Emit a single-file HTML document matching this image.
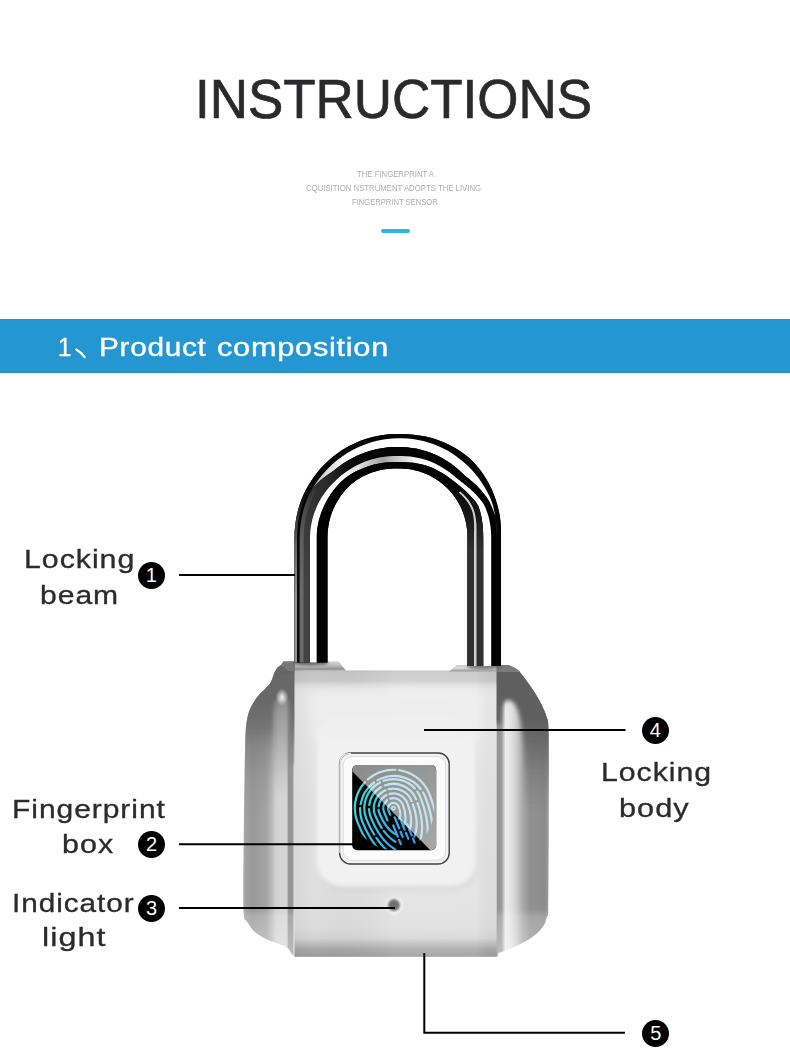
<!DOCTYPE html>
<html><head><meta charset="utf-8"><title>Instructions</title>
<style>
html,body{margin:0;padding:0;background:#fff;}
body{width:790px;height:1053px;position:relative;overflow:hidden;font-family:"Liberation Sans",sans-serif;}
.t{position:absolute;white-space:nowrap;transform-origin:0 0;line-height:normal;font-family:"Liberation Sans",sans-serif;}
.num{position:absolute;width:27px;height:27px;border-radius:50%;background:#000;color:#fff;font-size:20px;line-height:27.5px;text-align:center;font-family:"Liberation Sans",sans-serif;}
svg{position:absolute;left:0;top:0;}
</style></head><body>
<div class="t" style="-webkit-text-stroke:0.7px #2a2a2c;left:195.09px;top:67.22px;font-size:55px;color:#2a2a2c;transform:scaleX(0.9625);">INSTRUCTIONS</div>
<div class="t" style="left:357.0px;top:169.08px;font-size:8.6px;color:#adadad;transform:scaleX(0.9024);">THE FINGERPRINT A</div>
<div class="t" style="left:306.4px;top:183.48px;font-size:8.6px;color:#adadad;transform:scaleX(0.9047);">CQUISITION NSTRUMENT ADOPTS THE LIVING</div>
<div class="t" style="left:351.81px;top:197.28px;font-size:8.6px;color:#adadad;transform:scaleX(0.8853);">FINGERPRINT SENSOR</div>
<div style="position:absolute;left:381px;top:229px;width:29px;height:4px;border-radius:2px;background:#2fb4e6;"></div>
<div style="position:absolute;left:0;top:319px;width:790px;height:54px;background:#2497d3;"></div>
<svg width="790" height="1053" viewBox="0 0 790 1053"><path d="M76.2 349.6 Q81 352.5 84.6 357" stroke="#fff" stroke-width="2.3" fill="none" stroke-linecap="round"/></svg>
<div class="t" style="-webkit-text-stroke:0.35px #fff;left:58.45px;top:331.64px;font-size:26px;color:#fff;transform:scaleX(0.9273);">1</div>
<div class="t" style="-webkit-text-stroke:0.35px #fff;left:98.51px;top:331.64px;font-size:26px;letter-spacing:0.6px;color:#fff;transform:scaleX(1.1451);">Product</div>
<div class="t" style="-webkit-text-stroke:0.35px #fff;left:216.82px;top:331.64px;font-size:26px;letter-spacing:0.6px;color:#fff;transform:scaleX(1.1831);">composition</div>
<svg width="790" height="1053" viewBox="0 0 790 1053">
<defs>
<filter id="sblur" x="-5%" y="-5%" width="110%" height="110%"><feGaussianBlur stdDeviation="0.8"/></filter>
<linearGradient id="gB2" gradientUnits="userSpaceOnUse" x1="294" y1="0" x2="501" y2="0">
<stop offset="0" stop-color="#3c3c3c"/><stop offset="0.16" stop-color="#2a2a2a"/><stop offset="0.3" stop-color="#050505"/><stop offset="1" stop-color="#000"/></linearGradient>
<linearGradient id="gB3" gradientUnits="userSpaceOnUse" x1="294" y1="0" x2="501" y2="0">
<stop offset="0" stop-color="#fff"/><stop offset="0.22" stop-color="#fff"/><stop offset="0.32" stop-color="#dadada"/><stop offset="0.43" stop-color="#a4a4a4"/><stop offset="0.52" stop-color="#d4d4d4"/><stop offset="0.6" stop-color="#fff"/><stop offset="1" stop-color="#fff"/></linearGradient>
<linearGradient id="gB1" gradientUnits="userSpaceOnUse" x1="308" y1="494" x2="342" y2="452"><stop offset="0" stop-color="#8a8a8a"/><stop offset="0.45" stop-color="#d6d6d6"/><stop offset="1" stop-color="#fff"/></linearGradient>
<linearGradient id="gB4" gradientUnits="userSpaceOnUse" x1="294" y1="0" x2="501" y2="0">
<stop offset="0" stop-color="#000"/><stop offset="1" stop-color="#040404"/></linearGradient>
<linearGradient id="gB4r" gradientUnits="userSpaceOnUse" x1="0" y1="485" x2="0" y2="550"><stop offset="0" stop-color="#2e2e2e" stop-opacity="0"/><stop offset="1" stop-color="#303030" stop-opacity="1"/></linearGradient>
<linearGradient id="gS1" gradientUnits="userSpaceOnUse" x1="0" y1="490" x2="0" y2="600">
<stop offset="0" stop-color="#8c8c8c" stop-opacity="0"/><stop offset="0.5" stop-color="#8c8c8c" stop-opacity="0.7"/><stop offset="1" stop-color="#949494" stop-opacity="1"/></linearGradient>
<linearGradient id="gS2" gradientUnits="userSpaceOnUse" x1="0" y1="485" x2="0" y2="590">
<stop offset="0" stop-color="#686868" stop-opacity="0"/><stop offset="0.5" stop-color="#686868" stop-opacity="0.8"/><stop offset="1" stop-color="#6a6a6a" stop-opacity="1"/></linearGradient>
<linearGradient id="gS3" gradientUnits="userSpaceOnUse" x1="0" y1="500" x2="0" y2="580">
<stop offset="0" stop-color="#404040" stop-opacity="0"/><stop offset="1" stop-color="#424242" stop-opacity="1"/></linearGradient>

<filter id="b1" x="-10%" y="-10%" width="120%" height="120%"><feGaussianBlur stdDeviation="1"/></filter>
<filter id="b2" x="-10%" y="-10%" width="120%" height="120%"><feGaussianBlur stdDeviation="2.2"/></filter>
<filter id="b4" x="-20%" y="-20%" width="140%" height="140%"><feGaussianBlur stdDeviation="4"/></filter>
<clipPath id="bodyclip"><path d="M283.5 661.6C283.1 662.1 282.4 663.5 281.3 664.6C280.2 665.8 277.9 667.0 276.7 668.5C275.5 670.0 274.6 672.0 273.9 673.7C273.1 675.4 272.9 677.2 272.2 678.8C271.5 680.4 271.0 681.8 269.9 683.4C268.8 685.0 267.1 686.7 265.4 688.5C263.7 690.3 261.4 692.3 259.7 694.2C258.0 696.1 256.4 698.0 255.1 699.9C253.8 701.8 252.8 703.5 251.7 705.6C250.6 707.7 249.6 709.9 248.8 712.4C248.0 714.9 247.4 717.3 246.9 720.4C246.4 723.5 246.0 726.5 245.7 730.7C245.4 734.9 245.4 737.3 245.2 745.5C245.0 753.7 244.8 764.2 244.5 780.0C244.2 795.8 243.9 818.4 243.7 840.0C243.5 861.6 242.8 896.1 243.4 909.8C244.0 923.5 245.4 918.5 247.5 922.3C249.6 926.1 252.4 929.8 255.9 932.8C259.4 935.8 264.4 938.1 268.4 940.0C272.4 941.9 276.6 942.9 279.9 944.3C283.2 945.7 286.0 947.0 288.0 948.6C290.0 950.2 290.7 952.6 292.0 954.0C293.3 955.4 295.0 956.3 295.6 956.8L498.2 956.6C498.2 956.0 497.6 954.0 498.4 953.1C499.2 952.2 500.2 952.4 502.8 951.4C505.4 950.4 510.4 948.6 514.2 946.9C518.0 945.2 521.8 943.5 525.6 941.2C529.4 938.9 534.0 935.9 537.0 933.2C540.0 930.5 542.1 928.1 543.8 925.2C545.5 922.4 546.5 918.8 547.2 916.1C547.9 913.5 548.0 922.0 548.2 909.3C548.5 896.6 548.6 861.5 548.7 840.0C548.8 818.5 548.8 798.6 548.8 780.0C548.8 761.4 548.9 738.9 548.5 728.4C548.1 717.9 547.9 721.0 546.7 717.0C545.5 713.0 543.7 708.8 541.5 704.4C539.3 700.0 536.2 695.0 533.6 690.8C531.0 686.6 528.3 682.9 525.6 679.4C522.9 675.9 520.5 672.1 517.6 669.7C514.8 667.3 510.0 665.8 508.5 665.0L456.6 665L449 671.2L346 670.8L338.6 661.6L283.5 661.6Z"/></clipPath>
<linearGradient id="gSide" gradientUnits="userSpaceOnUse" x1="243" y1="0" x2="549" y2="0">
<stop offset="0" stop-color="#b4b4b4"/>
<stop offset="0.008" stop-color="#a2a2a2"/>
<stop offset="0.03" stop-color="#999"/>
<stop offset="0.075" stop-color="#a3a3a3"/>
<stop offset="0.095" stop-color="#bcbcbc"/>
<stop offset="0.108" stop-color="#d2d2d2"/>
<stop offset="0.140" stop-color="#d6d6d6"/>
<stop offset="0.144" stop-color="#cecece"/>
<stop offset="0.149" stop-color="#929292"/>
<stop offset="0.162" stop-color="#969696"/>
<stop offset="0.167" stop-color="#d8d8d8"/>
<stop offset="0.17" stop-color="#e4e4e4"/>
<stop offset="0.826" stop-color="#e4e4e4"/>
<stop offset="0.83" stop-color="#929292"/>
<stop offset="0.845" stop-color="#9a9a9a"/>
<stop offset="0.858" stop-color="#ececec"/>
<stop offset="0.875" stop-color="#e3e3e3"/>
<stop offset="0.892" stop-color="#d0d0d0"/>
<stop offset="0.915" stop-color="#a8a8a8"/>
<stop offset="0.937" stop-color="#919191"/>
<stop offset="0.985" stop-color="#8c8c8c"/>
<stop offset="1" stop-color="#9c9c9c"/>
</linearGradient>
<linearGradient id="gTopDarkL" gradientUnits="userSpaceOnUse" x1="0" y1="662" x2="0" y2="800">
<stop offset="0" stop-color="#000" stop-opacity="0.36"/><stop offset="0.3" stop-color="#000" stop-opacity="0.3"/><stop offset="0.6" stop-color="#000" stop-opacity="0.14"/><stop offset="1" stop-color="#000" stop-opacity="0"/></linearGradient>
<linearGradient id="gMaskL" gradientUnits="userSpaceOnUse" x1="243" y1="0" x2="297" y2="0">
<stop offset="0" stop-color="#fff"/><stop offset="0.5" stop-color="#fff"/><stop offset="0.72" stop-color="#555"/><stop offset="0.83" stop-color="#444"/><stop offset="0.86" stop-color="#999"/><stop offset="1" stop-color="#999"/></linearGradient>
<mask id="mL" maskUnits="userSpaceOnUse" x="240" y="655" width="60" height="160"><rect x="240" y="655" width="60" height="160" fill="url(#gMaskL)"/></mask>
<linearGradient id="gTopDarkR" gradientUnits="userSpaceOnUse" x1="0" y1="662" x2="0" y2="716">
<stop offset="0" stop-color="#000" stop-opacity="0.52"/><stop offset="0.6" stop-color="#000" stop-opacity="0.5"/><stop offset="1" stop-color="#000" stop-opacity="0"/></linearGradient>
<linearGradient id="gSideDarkR" gradientUnits="userSpaceOnUse" x1="0" y1="690" x2="0" y2="800">
<stop offset="0" stop-color="#000" stop-opacity="0.45"/><stop offset="0.4" stop-color="#000" stop-opacity="0.3"/><stop offset="1" stop-color="#000" stop-opacity="0"/></linearGradient>
<linearGradient id="gMaskR" gradientUnits="userSpaceOnUse" x1="496" y1="0" x2="549" y2="0">
<stop offset="0" stop-color="#000"/><stop offset="0.36" stop-color="#000"/><stop offset="0.62" stop-color="#ddd"/><stop offset="1" stop-color="#fff"/></linearGradient>
<mask id="mR" maskUnits="userSpaceOnUse" x="490" y="655" width="65" height="160"><rect x="490" y="655" width="65" height="160" fill="url(#gMaskR)"/></mask>
<linearGradient id="gDarkL" gradientUnits="userSpaceOnUse" x1="0" y1="660" x2="0" y2="815">
<stop offset="0" stop-color="#666" stop-opacity="1"/><stop offset="0.27" stop-color="#686868" stop-opacity="1"/><stop offset="0.42" stop-color="#6c6c6c" stop-opacity="0.88"/><stop offset="0.58" stop-color="#767676" stop-opacity="0.5"/><stop offset="0.78" stop-color="#787878" stop-opacity="0.15"/><stop offset="1" stop-color="#787878" stop-opacity="0"/></linearGradient>
<linearGradient id="gDarkR" gradientUnits="userSpaceOnUse" x1="0" y1="660" x2="0" y2="810">
<stop offset="0" stop-color="#606060" stop-opacity="1"/><stop offset="0.36" stop-color="#5e5e5e" stop-opacity="1"/><stop offset="0.53" stop-color="#5c5c5c" stop-opacity="0.75"/><stop offset="0.76" stop-color="#5c5c5c" stop-opacity="0.3"/><stop offset="1" stop-color="#5c5c5c" stop-opacity="0"/></linearGradient>
<linearGradient id="gBandDim" gradientUnits="userSpaceOnUse" x1="0" y1="700" x2="0" y2="795"><stop offset="0" stop-color="#7c7c7c" stop-opacity="0.75"/><stop offset="0.35" stop-color="#808080" stop-opacity="0.5"/><stop offset="1" stop-color="#888" stop-opacity="0"/></linearGradient>
<radialGradient id="gInd" cx="0.45" cy="0.45" r="0.6"><stop offset="0" stop-color="#6a6a6a"/><stop offset="0.7" stop-color="#767676"/><stop offset="1" stop-color="#8a8a8a"/></radialGradient>
<radialGradient id="gSpot" cx="0.5" cy="0.5" r="0.5"><stop offset="0" stop-color="#fff" stop-opacity="0.9"/><stop offset="0.45" stop-color="#fff" stop-opacity="0.5"/><stop offset="1" stop-color="#fff" stop-opacity="0"/></radialGradient>
<linearGradient id="gBotBand" gradientUnits="userSpaceOnUse" x1="0" y1="905" x2="0" y2="957">
<stop offset="0" stop-color="#fff" stop-opacity="0"/><stop offset="0.1" stop-color="#fff" stop-opacity="0.03"/><stop offset="0.22" stop-color="#fff" stop-opacity="0.2"/><stop offset="1" stop-color="#fff" stop-opacity="0.36"/></linearGradient>
<linearGradient id="gFace" gradientUnits="userSpaceOnUse" x1="0" y1="670" x2="0" y2="957">
<stop offset="0" stop-color="#c2c2c2"/>
<stop offset="0.012" stop-color="#c9c9c9"/>
<stop offset="0.038" stop-color="#cdcdcd"/>
<stop offset="0.052" stop-color="#dedede"/>
<stop offset="0.068" stop-color="#e8e8e8"/>
<stop offset="0.1" stop-color="#ececec"/>
<stop offset="0.2" stop-color="#e9e9e9"/>
<stop offset="0.5" stop-color="#e4e4e4"/>
<stop offset="0.8" stop-color="#e2e2e2"/>
<stop offset="0.9" stop-color="#dfdfdf"/>
<stop offset="0.935" stop-color="#d6d6d6"/>
<stop offset="0.955" stop-color="#bebebe"/>
<stop offset="0.975" stop-color="#a9a9a9"/>
<stop offset="1" stop-color="#9e9e9e"/>
</linearGradient>
<linearGradient id="gFaceH" gradientUnits="userSpaceOnUse" x1="294" y1="0" x2="497" y2="0">
<stop offset="0" stop-color="#000" stop-opacity="0.05"/><stop offset="0.1" stop-color="#000" stop-opacity="0.015"/><stop offset="0.5" stop-color="#fff" stop-opacity="0.1"/><stop offset="0.9" stop-color="#fff" stop-opacity="0.08"/><stop offset="1" stop-color="#000" stop-opacity="0.02"/></linearGradient>
<linearGradient id="gColL" gradientUnits="userSpaceOnUse" x1="0" y1="661" x2="0" y2="671">
<stop offset="0" stop-color="#d8d8d8"/><stop offset="0.55" stop-color="#b4b4b4"/><stop offset="0.8" stop-color="#8e8e8e"/><stop offset="1" stop-color="#b8b8b8"/></linearGradient>
<linearGradient id="gColR" gradientUnits="userSpaceOnUse" x1="0" y1="664" x2="0" y2="672">
<stop offset="0" stop-color="#c6c6c6"/><stop offset="0.5" stop-color="#dcdcdc"/><stop offset="0.85" stop-color="#a0a0a0"/><stop offset="1" stop-color="#c0c0c0"/></linearGradient>
<linearGradient id="gTri" gradientUnits="userSpaceOnUse" x1="360" y1="765" x2="436" y2="850">
<stop offset="0" stop-color="#8c8c8c"/><stop offset="0.5" stop-color="#999"/><stop offset="1" stop-color="#a8a8a8"/></linearGradient>
<linearGradient id="gFp" gradientUnits="userSpaceOnUse" x1="352" y1="775" x2="415" y2="850">
<stop offset="0" stop-color="#38e4d4"/><stop offset="0.45" stop-color="#36c0e4"/><stop offset="1" stop-color="#3a86ea"/></linearGradient>
<clipPath id="cSq"><rect x="352.2" y="765" width="84" height="85.3" rx="5"/></clipPath>
<clipPath id="cTri"><path d="M352.2 765H436.2V850.3H430.4L352.2 771.3Z"/></clipPath>
<clipPath id="cBlk"><path d="M352.2 771.3L430.4 850.3H352.2Z"/></clipPath>
<clipPath id="cFp"><circle cx="393.6" cy="809.2" r="40.8"/></clipPath>
<g id="fp" fill="none" stroke-width="2.25" stroke-linecap="round" clip-path="url(#cFp)"><g transform="rotate(-22 393.4 808.2)">
<circle cx="393.4" cy="808.2" r="1.6" stroke-width="1.6"/>
<path d="M388.0 813.0V808.2A5.3 5.3 0 0 1 398.8 808.2A5.3 11.9 0 0 1 394.5 819.9"/>
<path d="M383.3 817.3V808.2A10.1 10.1 0 0 1 403.5 808.2A10.1 20.7 0 0 1 395.4 828.5" stroke-dasharray="22 3.5 40"/>
<path d="M385.2 832.8A14.8 29.5 0 0 1 378.5 808.2A14.8 14.8 0 0 1 408.2 808.2A14.8 29.5 0 0 1 400.1 834.5" stroke-dasharray="30 3.5 14 3.5 60"/>
<path d="M382.6 840.1A19.6 38.3 0 0 1 373.8 808.2A19.6 19.6 0 0 1 413.0 808.2A19.6 38.3 0 0 1 402.2 842.4" stroke-dasharray="16 3.5 44 3.5 28 3.5 70"/>
<path d="M380.0 847.5A24.4 47.0 0 0 1 369.0 808.2A24.4 24.4 0 0 1 417.8 808.2A24.4 47.0 0 0 1 404.4 850.2" stroke-dasharray="50 4 22 4 38 4 90"/>
<path d="M377.4 854.8A29.1 55.8 0 0 1 364.3 808.2A29.1 29.1 0 0 1 422.5 808.2A29.1 55.8 0 0 1 406.5 858.1" stroke-dasharray="28 4 60 4 34 4 52 4 120"/>
<path d="M374.8 862.2A33.9 64.6 0 0 1 359.5 808.2A33.9 33.9 0 0 1 427.2 808.2A33.9 64.6 0 0 1 408.6 865.9" stroke-dasharray="70 4 26 4 48 4 80 4 130"/>
<path d="M372.2 869.5A38.6 73.4 0 0 1 354.8 808.2A38.6 38.6 0 0 1 432.0 808.2A38.6 73.4 0 0 1 410.8 873.8" stroke-dasharray="40 4 64 4 30 4 90 4 56 4 150"/>
<path d="M369.6 876.8A43.4 82.2 0 0 1 350.0 808.2A43.4 43.4 0 0 1 436.8 808.2A43.4 82.2 0 0 1 412.9 881.6" stroke-dasharray="90 4 36 4 70 4 44 4 170"/>
<path d="M366.9 884.2A48.1 91.0 0 0 1 345.3 808.2A48.1 48.1 0 0 1 441.5 808.2A48.1 91.0 0 0 1 415.0 889.4" stroke-dasharray="56 4 80 4 40 4 110 4 200"/>
<path d="M391.2 817.2V838.2" stroke-dasharray="12 3.5 30"/>
<path d="M395.8 820.2V842.2" stroke-dasharray="12 3.5 30"/>
<path d="M386.8 824.2V844.2" stroke-dasharray="12 3.5 30"/>
<path d="M400.2 828.2V848.2" stroke-dasharray="12 3.5 30"/>
</g></g>
</defs>
<path d="M283.5 661.6C283.1 662.1 282.4 663.5 281.3 664.6C280.2 665.8 277.9 667.0 276.7 668.5C275.5 670.0 274.6 672.0 273.9 673.7C273.1 675.4 272.9 677.2 272.2 678.8C271.5 680.4 271.0 681.8 269.9 683.4C268.8 685.0 267.1 686.7 265.4 688.5C263.7 690.3 261.4 692.3 259.7 694.2C258.0 696.1 256.4 698.0 255.1 699.9C253.8 701.8 252.8 703.5 251.7 705.6C250.6 707.7 249.6 709.9 248.8 712.4C248.0 714.9 247.4 717.3 246.9 720.4C246.4 723.5 246.0 726.5 245.7 730.7C245.4 734.9 245.4 737.3 245.2 745.5C245.0 753.7 244.8 764.2 244.5 780.0C244.2 795.8 243.9 818.4 243.7 840.0C243.5 861.6 242.8 896.1 243.4 909.8C244.0 923.5 245.4 918.5 247.5 922.3C249.6 926.1 252.4 929.8 255.9 932.8C259.4 935.8 264.4 938.1 268.4 940.0C272.4 941.9 276.6 942.9 279.9 944.3C283.2 945.7 286.0 947.0 288.0 948.6C290.0 950.2 290.7 952.6 292.0 954.0C293.3 955.4 295.0 956.3 295.6 956.8L498.2 956.6C498.2 956.0 497.6 954.0 498.4 953.1C499.2 952.2 500.2 952.4 502.8 951.4C505.4 950.4 510.4 948.6 514.2 946.9C518.0 945.2 521.8 943.5 525.6 941.2C529.4 938.9 534.0 935.9 537.0 933.2C540.0 930.5 542.1 928.1 543.8 925.2C545.5 922.4 546.5 918.8 547.2 916.1C547.9 913.5 548.0 922.0 548.2 909.3C548.5 896.6 548.6 861.5 548.7 840.0C548.8 818.5 548.8 798.6 548.8 780.0C548.8 761.4 548.9 738.9 548.5 728.4C548.1 717.9 547.9 721.0 546.7 717.0C545.5 713.0 543.7 708.8 541.5 704.4C539.3 700.0 536.2 695.0 533.6 690.8C531.0 686.6 528.3 682.9 525.6 679.4C522.9 675.9 520.5 672.1 517.6 669.7C514.8 667.3 510.0 665.8 508.5 665.0L456.6 665L449 671.2L346 670.8L338.6 661.6L283.5 661.6Z" fill="url(#gSide)"/>
<g clip-path="url(#bodyclip)">
<path d="M236 650H302V765H289V712C289 702 286.5 699 282 699C277 699 275.5 704 275 716C274 750 273 790 272 822H236Z" fill="url(#gDarkL)" filter="url(#b2)"/>
<rect x="274" y="700" width="15" height="95" fill="url(#gBandDim)" filter="url(#b1)"/>
<ellipse cx="282" cy="697" rx="6.5" ry="8.5" fill="url(#gSpot)"/>
<path d="M488 650H556V815H524C524 770 525.5 732 518 710C513.5 698 504.5 697 501.8 707L500.8 724H488Z" fill="url(#gDarkR)" filter="url(#b2)"/>
<rect x="240" y="905" width="56" height="55" fill="url(#gBotBand)"/>
<rect x="497" y="905" width="56" height="55" fill="url(#gBotBand)"/>
</g>
<rect x="294.5" y="670.5" width="202.0" height="286.29999999999995" fill="url(#gFace)"/>
<rect x="294.5" y="670.5" width="202.0" height="286.29999999999995" fill="url(#gFaceH)"/>
<rect x="317" y="724" width="161" height="166" rx="26" fill="#cdcdcd" opacity="0.5" filter="url(#b2)"/>
<rect x="316" y="716" width="160.5" height="170.5" rx="25" fill="#f1f1f1" filter="url(#b2)"/>
<rect x="312" y="690" width="168" height="50" rx="10" fill="#efefef" opacity="0.8" filter="url(#b4)"/>
<path d="M283.5 661.6H338.6L346 670.8H294.5L281 665Z" fill="url(#gColL)"/>
<path d="M281.3 664.6L283.5 661.6H295V671H288Z" fill="#787878"/>
<path d="M456.6 665H508.5L517.6 669.7L519 672H449Z" fill="url(#gColR)"/>
<path d="M496.5 665H508.5L517.6 669.7L519 672H496.5Z" fill="#7a7a7a"/>
<ellipse cx="310.7" cy="663" rx="17.5" ry="2.6" fill="#505050" opacity="0.75" filter="url(#b1)"/>
<ellipse cx="484.2" cy="666.8" rx="17.5" ry="2.4" fill="#5a5a5a" opacity="0.7" filter="url(#b1)"/>
<rect x="339.6" y="753" width="109.6" height="111" rx="11" fill="#f2f2f2" stroke="#424242" stroke-width="1.4"/>
<path d="M340 853V764Q340 753.4 351 753.4" fill="none" stroke="#e8e8e8" stroke-width="1.4"/>
<rect x="343.2" y="756.6" width="102.4" height="103.8" rx="8.5" fill="#fbfbfb" stroke="#d6d6d6" stroke-width="0.8"/>
<rect x="352.2" y="765" width="84" height="85.3" rx="5" fill="#000"/>
<g clip-path="url(#cSq)">
<path d="M352.2 765H436.2V850.3H430.4L352.2 771.3Z" fill="url(#gTri)"/>
<g clip-path="url(#cBlk)"><use href="#fp" stroke="url(#gFp)"/></g>
<g clip-path="url(#cTri)"><use href="#fp" stroke="#c2e4ee"/></g>
</g>
<circle cx="394" cy="905.4" r="8.6" fill="#f6f6f6" filter="url(#b1)"/>
<circle cx="394" cy="905.2" r="6.1" fill="url(#gInd)" filter="url(#b1)"/>
<g>
<path d="M294.5 662.5L294.5 627.0L294.5 597.0L294.5 567.0L294.5 547.0L294.5 537.0L294.6 531.6L295.1 526.2L295.8 520.9L296.8 515.6L298.0 510.3L299.5 505.2L301.3 500.1L303.4 495.1L305.7 490.2L308.3 485.5L311.1 480.9L314.2 476.5L317.5 472.2L321.0 468.1L324.7 464.2L328.6 460.5L332.7 457.0L337.0 453.7L341.4 450.6L346.0 447.8L350.7 445.2L355.6 442.9L360.6 440.8L365.7 439.0L370.8 437.5L376.1 436.3L381.4 435.3L386.7 434.6L392.1 434.1L397.5 434.0L402.9 434.1L408.3 434.3L413.7 434.7L419.1 435.4L424.5 436.3L429.8 437.5L435.1 439.1L440.3 440.9L445.4 443.1L450.4 445.4L455.2 448.1L459.9 451.1L464.5 454.3L468.8 457.8L472.9 461.6L476.7 465.7L480.2 470.0L483.4 474.6L486.4 479.3L489.1 484.1L491.6 489.1L493.7 494.2L495.6 499.3L497.2 504.6L498.6 509.9L499.7 515.3L500.4 520.7L500.8 526.1L501.0 531.6L501.0 537.0L501.0 547.0L501.0 567.0L501.0 597.0L501.0 627.0L501.0 666.0L467.5 666.0L467.5 627.0L467.5 597.0L467.5 567.0L467.5 547.0L467.5 537.0L467.4 533.3L467.1 529.7L466.6 526.0L466.0 522.4L465.1 518.9L464.1 515.4L462.8 511.9L461.4 508.5L459.8 505.2L458.0 502.1L456.1 498.9L454.0 496.0L451.7 493.1L449.3 490.3L446.8 487.7L444.1 485.2L441.3 482.9L438.4 480.8L435.3 478.7L432.2 476.9L429.0 475.2L425.7 473.7L422.3 472.4L418.8 471.3L415.4 470.4L411.8 469.6L408.3 469.1L404.7 468.7L401.1 468.5L397.5 468.4L393.9 468.5L390.3 468.7L386.7 469.0L383.2 469.6L379.6 470.3L376.1 471.2L372.6 472.2L369.2 473.5L365.9 475.0L362.6 476.6L359.4 478.4L356.3 480.3L353.4 482.5L350.5 484.8L347.9 487.4L345.4 490.1L343.0 492.9L340.8 495.8L338.8 498.9L336.9 502.0L335.1 505.2L333.6 508.5L332.1 511.9L330.9 515.4L329.9 518.9L329.0 522.4L328.4 526.0L327.9 529.7L327.6 533.3L327.5 537.0L327.5 547.0L327.5 567.0L327.5 597.0L327.5 627.0L327.5 662.5Z" fill="#0a0a0a"/>
<path d="M294.5 662.5L294.5 627.0L294.5 597.0L294.5 567.0L294.5 547.0L294.5 537.0L294.6 531.6L295.1 526.2L295.8 520.9L296.8 515.6L298.0 510.3L299.5 505.2L301.3 500.1L303.4 495.1L305.7 490.2L308.3 485.5L311.1 480.9L314.2 476.5L317.5 472.2L321.0 468.1L324.7 464.2L328.6 460.5L332.7 457.0L337.0 453.7L341.4 450.6L346.0 447.8L350.7 445.2L355.6 442.9L360.6 440.8L365.7 439.0L370.8 437.5L376.1 436.3L381.4 435.3L386.7 434.6L392.1 434.1L397.5 434.0L402.9 434.1L408.3 434.3L413.7 434.7L419.1 435.4L424.5 436.3L429.8 437.5L435.1 439.1L440.3 440.9L445.4 443.1L450.4 445.4L455.2 448.1L459.9 451.1L464.5 454.3L468.8 457.8L472.9 461.6L476.7 465.7L480.2 470.0L483.4 474.6L486.4 479.3L489.1 484.1L491.6 489.1L493.7 494.2L495.6 499.3L497.2 504.6L498.6 509.9L499.7 515.3L500.4 520.7L500.8 526.1L501.0 531.6L501.0 537.0L501.0 547.0L501.0 567.0L501.0 597.0L501.0 627.0L501.0 666.0L496.5 666.0L496.5 627.0L496.5 597.0L496.5 567.0L496.5 547.0L496.5 537.0L496.4 531.8L496.2 526.6L495.7 521.4L495.0 516.3L494.2 511.1L493.1 505.9L491.4 500.9L489.4 496.1L487.0 491.4L484.4 486.8L481.6 482.4L478.6 478.1L475.3 474.0L471.9 470.0L468.2 466.3L464.4 462.7L460.4 459.4L456.2 456.2L451.9 453.3L447.4 450.6L442.8 448.2L438.0 446.0L433.2 444.0L428.2 442.4L423.2 441.0L418.1 439.9L413.0 439.1L407.9 438.5L402.7 438.2L397.5 438.2L392.3 438.4L387.2 439.0L382.1 439.8L377.1 440.8L372.1 442.1L367.2 443.7L362.4 445.5L357.7 447.5L353.1 449.8L348.6 452.3L344.3 455.0L340.1 458.0L336.1 461.1L332.2 464.5L328.5 468.0L325.0 471.7L321.7 475.6L318.5 479.6L315.5 483.8L312.7 488.0L310.2 492.5L308.0 497.2L306.1 501.9L304.5 506.8L303.2 511.7L302.2 516.7L301.4 521.8L300.9 526.8L300.6 531.9L300.5 537.0L300.6 547.0L300.9 567.0L301.2 597.0L301.4 627.0L301.5 662.5Z" fill="#050505"/>
<path d="M301.5 662.5L301.4 627.0L301.2 597.0L300.9 567.0L300.6 547.0L300.5 537.0L300.6 531.9L300.9 526.8L301.4 521.8L302.2 516.7L303.2 511.7L304.5 506.8L306.1 501.9L308.0 497.2L310.2 492.5L312.7 488.0L315.5 483.8L318.5 479.6L321.7 475.6L325.0 471.7L328.5 468.0L332.2 464.5L336.1 461.1L340.1 458.0L344.3 455.0L348.6 452.3L353.1 449.8L357.7 447.5L362.4 445.5L367.2 443.7L372.1 442.1L377.1 440.8L382.1 439.8L387.2 439.0L392.3 438.4L397.5 438.2L402.7 438.2L407.9 438.5L413.0 439.1L418.1 439.9L423.2 441.0L428.2 442.4L433.2 444.0L438.0 446.0L442.8 448.2L447.4 450.6L451.9 453.3L456.2 456.2L460.4 459.4L464.4 462.7L468.2 466.3L471.9 470.0L475.3 474.0L478.6 478.1L481.6 482.4L484.4 486.8L487.0 491.4L489.4 496.1L491.4 500.9L493.1 505.9L494.2 511.1L495.0 516.3L495.7 521.4L496.2 526.6L496.4 531.8L496.5 537.0L496.5 547.0L496.5 567.0L496.5 597.0L496.5 627.0L496.5 666.0L496.5 666.0L496.5 627.0L496.5 597.0L496.5 567.0L496.5 547.0L496.5 537.0L496.5 531.8L496.3 526.6L495.8 521.4L494.9 516.3L493.5 511.3L491.6 506.4L489.4 501.7L486.6 497.3L483.4 493.2L480.1 489.3L476.6 485.6L472.9 482.2L469.1 479.0L465.4 475.9L461.8 472.7L458.3 469.4L454.7 466.4L450.9 463.5L446.9 460.9L442.9 458.4L438.7 456.2L434.4 454.2L430.0 452.4L425.5 450.9L420.9 449.7L416.3 448.6L411.6 447.9L406.9 447.3L402.2 447.0L397.5 446.9L392.8 447.0L388.1 447.3L383.4 447.9L378.7 448.7L374.1 449.7L369.5 451.0L365.0 452.4L360.6 454.2L356.3 456.1L352.0 458.3L347.9 460.6L343.8 463.1L339.9 465.8L336.0 468.7L332.2 471.7L328.0 474.5L323.9 477.4L320.0 480.7L316.3 484.2L312.8 488.1L310.2 492.5L308.0 497.2L306.1 501.9L304.5 506.8L303.2 511.7L302.2 516.7L301.4 521.8L300.9 526.8L300.6 531.9L300.5 537.0L300.6 547.0L300.9 567.0L301.2 597.0L301.4 627.0L301.5 662.5Z" fill="url(#gB1)"/>
<path d="M301.5 662.5L301.4 627.0L301.2 597.0L300.9 567.0L300.6 547.0L300.5 537.0L300.6 531.9L300.9 526.8L301.4 521.8L302.2 516.7L303.2 511.7L304.5 506.8L306.1 501.9L308.0 497.2L310.2 492.5L312.8 488.1L316.3 484.2L320.0 480.7L323.9 477.4L328.0 474.5L332.2 471.7L336.0 468.7L339.9 465.8L343.8 463.1L347.9 460.6L352.0 458.3L356.3 456.1L360.6 454.2L365.0 452.4L369.5 451.0L374.1 449.7L378.7 448.7L383.4 447.9L388.1 447.3L392.8 447.0L397.5 446.9L402.2 447.0L406.9 447.3L411.6 447.9L416.3 448.6L420.9 449.7L425.5 450.9L430.0 452.4L434.4 454.2L438.7 456.2L442.9 458.4L446.9 460.9L450.9 463.5L454.7 466.4L458.3 469.4L461.8 472.7L465.4 475.9L469.1 479.0L472.9 482.2L476.6 485.6L480.1 489.3L483.4 493.2L486.6 497.3L489.4 501.7L491.6 506.4L493.5 511.3L494.9 516.3L495.8 521.4L496.3 526.6L496.5 531.8L496.5 537.0L496.5 547.0L496.5 567.0L496.5 597.0L496.5 627.0L496.5 666.0L491.2 666.0L491.2 627.0L491.2 597.0L491.2 567.0L491.2 547.0L491.2 537.0L491.0 532.1L490.6 527.2L489.8 522.4L488.8 517.6L487.4 512.9L485.7 508.3L483.6 504.0L480.7 499.9L477.5 496.2L474.1 492.8L470.7 489.4L467.2 486.4L463.5 483.5L460.0 480.8L456.5 478.0L453.2 475.2L449.7 472.5L446.2 470.0L442.5 467.7L438.8 465.5L434.9 463.6L431.0 461.8L426.9 460.3L422.8 459.0L418.7 458.0L414.5 457.2L410.2 456.6L406.0 456.2L401.7 456.0L397.5 455.9L393.3 456.0L389.0 456.2L384.8 456.7L380.6 457.3L376.4 458.2L372.2 459.2L368.1 460.5L364.1 462.0L360.1 463.7L356.3 465.6L352.5 467.7L348.8 470.0L345.2 472.4L341.7 475.1L338.4 477.9L335.2 480.9L332.1 484.0L329.1 487.3L326.3 490.8L323.6 494.4L321.2 498.1L319.0 502.1L317.0 506.1L315.3 510.3L313.7 514.5L312.4 518.9L311.4 523.4L310.6 527.9L310.2 532.4L310.0 537.0L310.0 547.0L310.0 567.0L310.0 597.0L310.0 627.0L310.0 662.5Z" fill="url(#gB2)"/>
<path d="M310.0 662.5L310.0 627.0L310.0 597.0L310.0 567.0L310.0 547.0L310.0 537.0L310.2 532.4L310.6 527.9L311.4 523.4L312.4 518.9L313.7 514.5L315.3 510.3L317.0 506.1L319.0 502.1L321.2 498.1L323.6 494.4L326.3 490.8L329.1 487.3L332.1 484.0L335.2 480.9L338.4 477.9L341.7 475.1L345.2 472.4L348.8 470.0L352.5 467.7L356.3 465.6L360.1 463.7L364.1 462.0L368.1 460.5L372.2 459.2L376.4 458.2L380.6 457.3L384.8 456.7L389.0 456.2L393.3 456.0L397.5 455.9L401.7 456.0L406.0 456.2L410.2 456.6L414.5 457.2L418.7 458.0L422.8 459.0L426.9 460.3L431.0 461.8L434.9 463.6L438.8 465.5L442.5 467.7L446.2 470.0L449.7 472.5L453.2 475.2L456.5 478.0L460.0 480.8L463.5 483.5L467.2 486.4L470.7 489.4L474.1 492.8L477.5 496.2L480.7 499.9L483.6 504.0L485.7 508.3L487.4 512.9L488.8 517.6L489.8 522.4L490.6 527.2L491.0 532.1L491.2 537.0L491.2 547.0L491.2 567.0L491.2 597.0L491.2 627.0L491.2 666.0L483.2 666.0L483.2 627.0L483.2 597.0L483.2 567.0L483.2 547.0L483.2 537.0L483.1 532.5L482.9 528.0L482.4 523.5L481.8 519.1L480.9 514.6L479.8 510.3L478.3 506.0L475.8 502.1L472.8 498.6L469.7 495.3L466.7 492.1L463.4 489.1L460.1 486.3L456.8 483.6L453.5 481.0L450.2 478.4L446.9 476.0L443.4 473.8L439.9 471.7L436.3 469.7L432.7 468.0L428.9 466.5L425.1 465.2L421.2 464.2L417.2 463.4L413.3 462.8L409.3 462.4L405.4 462.2L401.4 462.0L397.5 462.0L393.6 462.1L389.6 462.2L385.7 462.6L381.8 463.1L377.9 463.7L374.0 464.6L370.1 465.7L366.3 466.9L362.5 468.4L358.8 470.0L355.1 471.8L351.6 473.8L348.1 476.0L344.8 478.5L341.7 481.2L338.8 484.1L336.0 487.2L333.4 490.4L331.0 493.8L328.7 497.3L326.6 500.9L324.7 504.6L323.0 508.4L321.4 512.3L320.1 516.2L318.9 520.3L318.0 524.4L317.3 528.6L316.9 532.8L316.8 537.0L316.8 547.0L316.8 567.0L316.8 597.0L316.8 627.0L316.8 662.5Z" fill="url(#gB3)"/>
<path d="M316.8 662.5L316.8 627.0L316.8 597.0L316.8 567.0L316.8 547.0L316.8 537.0L316.9 532.8L317.3 528.6L318.0 524.4L318.9 520.3L320.1 516.2L321.4 512.3L323.0 508.4L324.7 504.6L326.6 500.9L328.7 497.3L331.0 493.8L333.4 490.4L336.0 487.2L338.8 484.1L341.7 481.2L344.8 478.5L348.1 476.0L351.6 473.8L355.1 471.8L358.8 470.0L362.5 468.4L366.3 466.9L370.1 465.7L374.0 464.6L377.9 463.7L381.8 463.1L385.7 462.6L389.6 462.2L393.6 462.1L397.5 462.0L401.4 462.0L405.4 462.2L409.3 462.4L413.3 462.8L417.2 463.4L421.2 464.2L425.1 465.2L428.9 466.5L432.7 468.0L436.3 469.7L439.9 471.7L443.4 473.8L446.9 476.0L450.2 478.4L453.5 481.0L456.8 483.6L460.1 486.3L463.4 489.1L466.7 492.1L469.7 495.3L472.8 498.6L475.8 502.1L478.3 506.0L479.8 510.3L480.9 514.6L481.8 519.1L482.4 523.5L482.9 528.0L483.1 532.5L483.2 537.0L483.2 547.0L483.2 567.0L483.2 597.0L483.2 627.0L483.2 666.0L467.5 666.0L467.5 627.0L467.5 597.0L467.5 567.0L467.5 547.0L467.5 537.0L467.4 533.3L467.1 529.7L466.6 526.0L466.0 522.4L465.1 518.9L464.1 515.4L462.8 511.9L461.4 508.5L459.8 505.2L458.0 502.1L456.1 498.9L454.0 496.0L451.7 493.1L449.3 490.3L446.8 487.7L444.1 485.2L441.3 482.9L438.4 480.8L435.3 478.7L432.2 476.9L429.0 475.2L425.7 473.7L422.3 472.4L418.8 471.3L415.4 470.4L411.8 469.6L408.3 469.1L404.7 468.7L401.1 468.5L397.5 468.4L393.9 468.5L390.3 468.7L386.7 469.0L383.2 469.6L379.6 470.3L376.1 471.2L372.6 472.2L369.2 473.5L365.9 475.0L362.6 476.6L359.4 478.4L356.3 480.3L353.4 482.5L350.5 484.8L347.9 487.4L345.4 490.1L343.0 492.9L340.8 495.8L338.8 498.9L336.9 502.0L335.1 505.2L333.6 508.5L332.1 511.9L330.9 515.4L329.9 518.9L329.0 522.4L328.4 526.0L327.9 529.7L327.6 533.3L327.5 537.0L327.5 547.0L327.5 567.0L327.5 597.0L327.5 627.0L327.5 662.5Z" fill="url(#gB4)"/>
<path d="M295.8 662.5V537.0A101.7 101.7 0 0 1 311.3 483.1" stroke="url(#gS1)" stroke-width="2.6" fill="none"/>
<path d="M301.7 662.5V537.0A95.8 95.8 0 0 1 314.5 489.1" stroke="url(#gS2)" stroke-width="4.2" fill="none"/>
<path d="M306.7 662.5V537.0A90.8 90.8 0 0 1 314.6 500.1" stroke="url(#gS3)" stroke-width="6" fill="none"/>
<path d="M460.1 486.3L463.4 489.1L466.7 492.1L469.7 495.3L472.8 498.6L475.8 502.1L478.3 506.0L479.8 510.3L480.9 514.6L481.8 519.1L482.4 523.5L482.9 528.0L483.1 532.5L483.2 537.0L483.2 547.0L483.2 567.0L483.2 597.0L483.2 627.0L483.2 666.0L467.5 666.0L467.5 627.0L467.5 597.0L467.5 567.0L467.5 547.0L467.5 537.0L467.4 533.3L467.1 529.7L466.6 526.0L466.0 522.4L465.1 518.9L464.1 515.4L462.8 511.9L461.4 508.5L459.8 505.2L458.0 502.1L456.1 498.9L454.0 496.0L451.7 493.1Z" fill="url(#gB4r)"/>
<path d="M460.2 491.5L463.3 494.3L466.2 497.3L468.9 500.6L471.2 504.2L473.1 508.0L474.5 512.0L475.4 516.1L476.0 520.3L476.4 524.5L476.5 528.7L476.5 532.9L476.5 537.0L476.5 547.0L476.5 567.0L476.5 597.0L476.5 627.0L476.5 666.0L474.0 666.0L474.0 627.0L474.0 597.0L474.0 567.0L474.0 547.0L474.0 537.0L474.0 533.0L474.1 528.9L474.1 524.9L473.9 520.8L473.4 516.7L472.6 512.6L471.2 508.7L469.4 505.0L467.1 501.5L464.5 498.3L461.7 495.3L458.7 492.5Z" fill="#d0d0d0"/>
</g>
</svg>
<svg width="790" height="1053" viewBox="0 0 790 1053">
<g stroke="#000" stroke-width="2" fill="none">
<path d="M179 575H295"/>
<path d="M179 844.2H354"/>
<path d="M179 908H395"/>
<path d="M424 730H625.5"/>
<path d="M424.3 953V1032.7H625"/>
</g></svg>
<div class="t" style="-webkit-text-stroke:0.3px #2b2b2b;left:24.07px;top:544.96px;font-size:25px;letter-spacing:0.8px;color:#2b2b2b;transform:scaleX(1.2126);">Locking</div>
<div class="t" style="-webkit-text-stroke:0.3px #2b2b2b;left:39.99px;top:581.16px;font-size:25px;letter-spacing:0.8px;color:#2b2b2b;transform:scaleX(1.2033);">beam</div>
<div class="t" style="-webkit-text-stroke:0.3px #2b2b2b;left:12.3px;top:794.86px;font-size:25px;letter-spacing:0.8px;color:#2b2b2b;transform:scaleX(1.1992);">Fingerprint</div>
<div class="t" style="-webkit-text-stroke:0.3px #2b2b2b;left:62.16px;top:830.36px;font-size:25px;letter-spacing:0.8px;color:#2b2b2b;transform:scaleX(1.22);">box</div>
<div class="t" style="-webkit-text-stroke:0.3px #2b2b2b;left:12.32px;top:888.56px;font-size:25px;letter-spacing:0.8px;color:#2b2b2b;transform:scaleX(1.19);">Indicator</div>
<div class="t" style="-webkit-text-stroke:0.3px #2b2b2b;left:41.72px;top:923.46px;font-size:25px;letter-spacing:0.8px;color:#2b2b2b;transform:scaleX(1.2915);">light</div>
<div class="t" style="-webkit-text-stroke:0.3px #2b2b2b;left:600.78px;top:758.46px;font-size:25px;letter-spacing:0.8px;color:#2b2b2b;transform:scaleX(1.2103);">Locking</div>
<div class="t" style="-webkit-text-stroke:0.3px #2b2b2b;left:619.14px;top:793.96px;font-size:25px;letter-spacing:0.8px;color:#2b2b2b;transform:scaleX(1.2291);">body</div>
<div class="num" style="left:137.9px;top:561.7px;">1</div>
<div class="num" style="left:138.0px;top:831.0px;">2</div>
<div class="num" style="left:138.0px;top:895.2px;">3</div>
<div class="num" style="left:641.9px;top:716.9px;">4</div>
<div class="num" style="left:642.3px;top:1019.5px;">5</div>
</body></html>
